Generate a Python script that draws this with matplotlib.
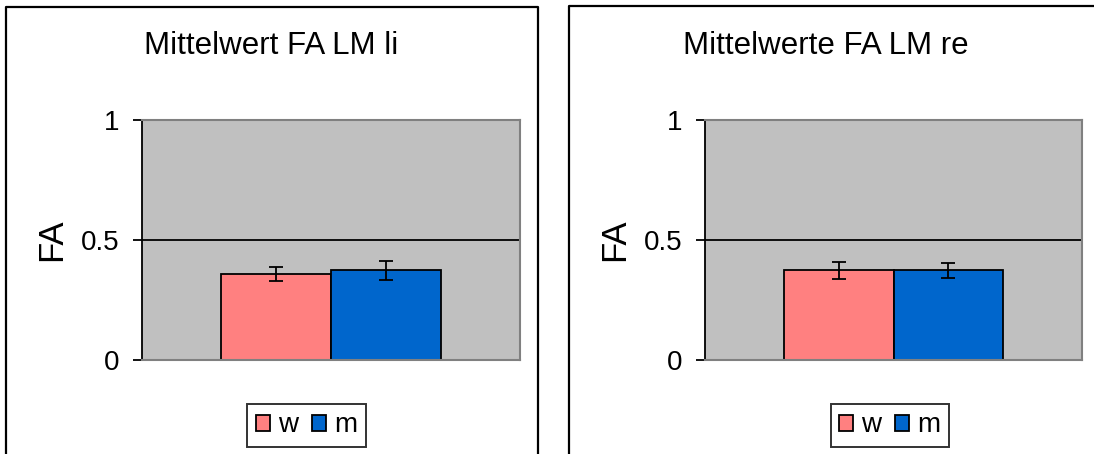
import matplotlib
matplotlib.use("Agg")
import matplotlib.pyplot as plt
from matplotlib.lines import Line2D
from matplotlib.patches import Patch

plt.rcParams['font.family'] = ['Liberation Sans', 'DejaVu Sans']

# data
groups = ['w', 'm']
colors = ['#FF8080', '#0066CC']
titles = ['Mittelwert FA LM li', 'Mittelwerte FA LM re']
means_li = [0.358, 0.373]
err_li = [0.029, 0.038]
means_re = [0.373, 0.373]
err_re = [0.034, 0.030]
yticks = [0, 0.5, 1]
ytick_labels = ['0', '0.5', '1']

W, H = 1094, 454
fig = plt.figure(figsize=(W / 100, H / 100), dpi=100)


def px_axes(x0, x1, y0, y1):
    # pixel box (top-left origin) -> figure fraction axes
    return fig.add_axes([x0 / W, 1 - y1 / H, (x1 - x0) / W, (y1 - y0) / H])


def frame_line(xs, ys):
    # line in pixel coords (top-left origin) on the figure
    fig.lines.append(Line2D([x / W for x in xs], [1 - y / H for y in ys],
                            transform=fig.transFigure, color='black', linewidth=1.6))


# chart frames: the bottom edges (and right one of the 2nd chart) lie outside the image
frame_line([6, 6, 538, 538], [470, 7, 7, 470])
frame_line([569, 569, 1100], [470, 6, 6])

panels = [
    dict(plot=(142, 520), title_x=271, leg_x=306.5,
         means=means_li, errs=err_li, title=titles[0]),
    dict(plot=(705, 1082), title_x=826, leg_x=890,
         means=means_re, errs=err_re, title=titles[1]),
]

for p in panels:
    fig.text(p['title_x'] / W, 1 - 46 / H, p['title'], ha='center', va='center',
             fontsize=22.5)

    ax = px_axes(p['plot'][0], p['plot'][1], 120, 360)
    ax.set_facecolor('#C0C0C0')
    ax.set_xlim(-0.5, 0.5)
    ax.set_ylim(0, 1)
    ax.axhline(0.5, color='black', linewidth=1.3, zorder=1)

    width = 0.29
    offsets = [-width / 2, width / 2]
    for off, m, e, c in zip(offsets, p['means'], p['errs'], colors):
        ax.bar(off, m, width=width, color=c, edgecolor='black', linewidth=1.3, zorder=2)
        ax.errorbar(off, m, yerr=e, fmt='none', ecolor='black', elinewidth=1.3,
                    capsize=5, capthick=1.3, zorder=3)

    for side in ['top', 'right', 'bottom']:
        ax.spines[side].set_color('#808080')
        ax.spines[side].set_linewidth(1.5)
    ax.spines['left'].set_color('black')
    ax.spines['left'].set_linewidth(1.3)

    ax.set_xticks([])
    ax.set_yticks(yticks)
    ax.set_yticklabels(ytick_labels)
    ax.tick_params(axis='y', direction='out', length=6.5, width=1.3, labelsize=20, pad=10)
    ax.set_ylabel('FA', fontsize=25, labelpad=9)

    handles = [Patch(facecolor=c, edgecolor='black', linewidth=1.3, label=g)
               for g, c in zip(groups, colors)]
    leg = fig.legend(handles=handles, loc='center', ncol=2,
                     bbox_to_anchor=(p['leg_x'] / W, 1 - 425.5 / H),
                     fontsize=20, frameon=True, fancybox=False,
                     handlelength=0.5, handleheight=0.5, handletextpad=0.3,
                     columnspacing=0.5, borderpad=0.3, borderaxespad=0)
    leg.get_frame().set_edgecolor('black')
    leg.get_frame().set_linewidth(1.4)

fig.savefig('out.png', dpi=100)
